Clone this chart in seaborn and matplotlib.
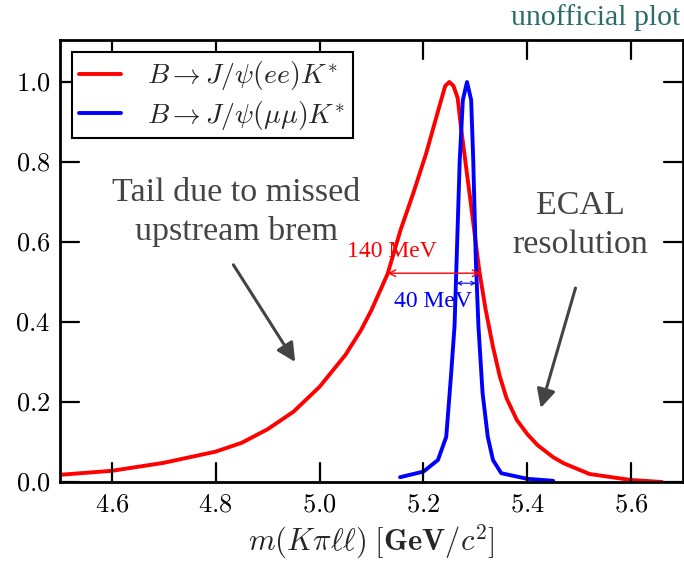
import numpy as np
import pandas as pd
import seaborn as sns
import matplotlib.pyplot as plt

# B -> J/psi(ee) K* : mass shape
ee_mass = [4.50, 4.60, 4.70, 4.80, 4.85, 4.90, 4.95, 5.00, 5.05, 5.08, 5.10,
           5.131, 5.156, 5.18, 5.205, 5.218, 5.231, 5.242, 5.25, 5.258, 5.266,
           5.273, 5.29, 5.308, 5.32, 5.334, 5.347, 5.36, 5.38, 5.40, 5.42,
           5.45, 5.47, 5.52, 5.60, 5.66]
ee_shape = [0.018, 0.028, 0.048, 0.076, 0.098, 0.132, 0.176, 0.238, 0.318,
            0.38, 0.43, 0.52, 0.63, 0.72, 0.82, 0.88, 0.94, 0.99, 1.0, 0.99,
            0.96, 0.88, 0.71, 0.525, 0.43, 0.338, 0.265, 0.21, 0.155, 0.12,
            0.092, 0.062, 0.047, 0.02, 0.005, 0.0]

# B -> J/psi(mumu) K*
mm_mass = [5.155, 5.20, 5.228, 5.244, 5.253, 5.26, 5.264, 5.27, 5.276, 5.284,
           5.292, 5.296, 5.301, 5.306, 5.314, 5.324, 5.334, 5.35, 5.40, 5.45]
mm_shape = [0.012, 0.026, 0.055, 0.113, 0.263, 0.39, 0.555, 0.805, 0.955, 1.0,
            0.955, 0.805, 0.555, 0.39, 0.222, 0.113, 0.055, 0.022, 0.008, 0.003]

labels = [r'$B\to J/\psi(ee)K^{*}$', r'$B\to J/\psi(\mu\mu)K^{*}$']
width_labels = ['140 MeV', '40 MeV']
xticks = [4.6, 4.8, 5.0, 5.2, 5.4, 5.6]
yticks = [0.0, 0.2, 0.4, 0.6, 0.8, 1.0]

ee = pd.DataFrame({'mass': ee_mass, 'shape': ee_shape})
mm = pd.DataFrame({'mass': mm_mass, 'shape': mm_shape})

sns.set_style('ticks')
plt.rcParams.update({
    'mathtext.fontset': 'cm',
    'font.family': ['Liberation Serif', 'DejaVu Serif'],
    'axes.unicode_minus': False,
    'xtick.color': 'black', 'ytick.color': 'black',
})

fig = plt.figure(figsize=(6.84, 5.61), dpi=100)
ax = fig.add_axes([0.0877, 0.1408, 0.9108, 0.7879])

sns.lineplot(data=ee, x='mass', y='shape', color='red', lw=2.8,
             label=labels[0], ax=ax, estimator=None)
sns.lineplot(data=mm, x='mass', y='shape', color='blue', lw=2.8,
             label=labels[1], ax=ax, estimator=None)

ax.set_xlim(4.5, 5.7)
ax.set_ylim(0, 1.105)
ax.set_xticks(xticks)
ax.set_yticks(yticks)
ax.set_xticklabels([f'${t:.1f}$' for t in xticks], fontsize=19)
ax.set_yticklabels([f'${t:.1f}$' for t in yticks], fontsize=19)
ax.tick_params(which='both', direction='in', length=0)
ax.tick_params(axis='x', pad=9)
ax.tick_params(axis='y', pad=7)
for s in ax.spines.values():
    s.set_linewidth(2.0)
    s.set_color('black')

# inward tick marks on all four sides (about 20 px long)
tick_len_y = 14 / (0.7879 * 5.61 * 72)
tick_len_x = 14 / (0.9108 * 6.84 * 72)
for t in xticks:
    ax.axvline(t, ymin=0, ymax=tick_len_y, color='black', lw=1.6, zorder=4)
    ax.axvline(t, ymin=1 - tick_len_y, ymax=1, color='black', lw=1.6, zorder=4)
for t in yticks:
    ax.axhline(t, xmin=0, xmax=tick_len_x, color='black', lw=1.6, zorder=4)
    ax.axhline(t, xmin=1 - tick_len_x, xmax=1, color='black', lw=1.6, zorder=4)

ax.set_xlabel(r'$m(K\pi\ell\ell)$ $[\mathbf{GeV}/c^{2}]$', fontsize=22, labelpad=4)
ax.set_ylabel('')

handles, _ = ax.get_legend_handles_labels()
leg = ax.legend(handles[:2], labels, loc='upper left', fontsize=20,
                frameon=True, fancybox=False, edgecolor='black', framealpha=1,
                handlelength=1.48, handletextpad=0.97, borderaxespad=0.45,
                labelspacing=0.22, borderpad=0.25)
leg.get_frame().set_linewidth(1.5)
leg.set_zorder(5)

# width markers
ax.annotate('', xy=(5.131, 0.522), xytext=(5.31, 0.522),
            arrowprops=dict(arrowstyle='<->', color='red', lw=1.0,
                            shrinkA=0, shrinkB=0, mutation_scale=12))
ax.text(5.14, 0.576, width_labels[0], color='red', fontsize=17,
        ha='center', va='center')
ax.annotate('', xy=(5.264, 0.497), xytext=(5.301, 0.497),
            arrowprops=dict(arrowstyle='<->', color='blue', lw=0.8,
                            shrinkA=0, shrinkB=0, mutation_scale=7))
ax.text(5.219, 0.4525, width_labels[1], color='blue', fontsize=17,
        ha='center', va='center')

# explanatory notes
gray = '#444444'
ax.text(4.84, 0.675, 'Tail due to missed\nupstream brem', color=gray,
        fontsize=24.5, ha='center', va='center', linespacing=1.35)
ax.annotate('', xy=(4.953, 0.30), xytext=(4.834, 0.543),
            arrowprops=dict(arrowstyle='-|>', color=gray, lw=2.2,
                            shrinkA=0, shrinkB=0, mutation_scale=28))
ax.text(5.503, 0.6425, 'ECAL\nresolution', color=gray,
        fontsize=24.5, ha='center', va='center', linespacing=1.35)
ax.annotate('', xy=(5.426, 0.185), xytext=(5.493, 0.485),
            arrowprops=dict(arrowstyle='-|>', color=gray, lw=2.2,
                            shrinkA=0, shrinkB=0, mutation_scale=28))

fig.text(0.994, 1 - 18 / 561, 'unofficial plot', color='#2b6b6b',
         fontsize=21.5, ha='right', va='center')

fig.savefig('out.png', dpi=100)
